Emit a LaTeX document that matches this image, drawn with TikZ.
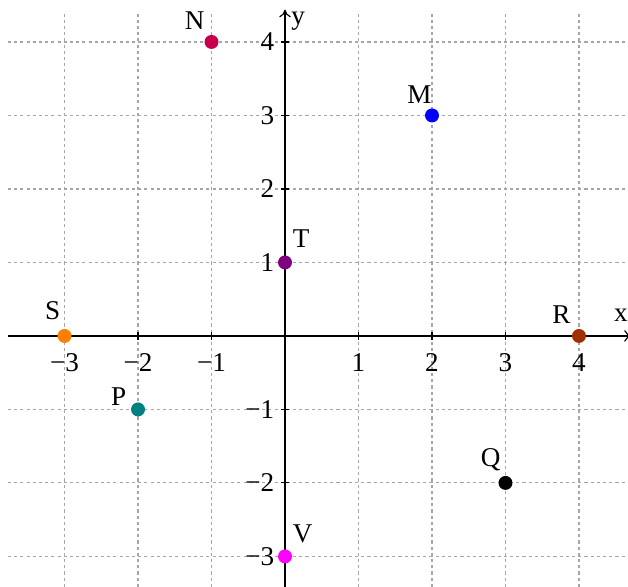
\documentclass[tikz,border=0pt]{standalone}
\usepackage{fontspec}
\setmainfont{Liberation Serif}
\usetikzlibrary{arrows.meta,calc}
\begin{document}
\begin{tikzpicture}[x=1cm,y=1cm,
  gridline/.style={draw=gray!70,line width=0.45pt,dash pattern=on 1.2pt off 1.2pt},
  axisline/.style={draw=black,line width=0.45pt,-{To[length=3pt,width=4.5pt]}},
  tickline/.style={draw=black,line width=0.45pt},
  ticklab/.style={font=\fontsize{10.5}{12}\selectfont,inner sep=0pt},
  ptlab/.style={font=\fontsize{10.5}{12}\selectfont,inner sep=0pt},
  pt/.style={circle,inner sep=0pt,minimum size=0.19cm,fill=#1}]
\useasboundingbox (-3.878,-3.415) rectangle (4.667,4.571);
\clip (-3.878,-3.415) rectangle (4.667,4.571);
\definecolor{cN}{HTML}{C8004B}
\definecolor{cM}{HTML}{0000FF}
\definecolor{cT}{HTML}{800080}
\definecolor{cS}{HTML}{FF8000}
\definecolor{cR}{HTML}{A03000}
\definecolor{cP}{HTML}{008080}
\definecolor{cQ}{HTML}{000000}
\definecolor{cV}{HTML}{FF00FF}
% grid
\foreach \y in {-3,...,4} \draw[gridline] (-3.77,\y) -- (4.75,\y);
\foreach \x in {-3,...,4} \draw[gridline] (\x,-3.5) -- (\x,4.41);
% axes
\coordinate (xs) at (-3.77,0);
\coordinate (xe) at (4.72,0);
\coordinate (ys) at (0,-3.5);
\coordinate (ye) at (0,4.44);
\draw[axisline] (xs) -- (xe);
\draw[axisline] (ys) -- (ye);
\node[ticklab] (xl) at (4.57,0.28) {x};
\node[ticklab] (yl) at (0.18,4.28) {y};
% ticks
\foreach \x/\t in {-3/−3,-2/−2,-1/−1,1/1,2/2,3/3,4/4} {
  \draw[tickline] (\x,-0.05) -- (\x,0.05);
  \node[ticklab,anchor=north] (tx\x) at (\x,-0.23) {\t};
}
\foreach \y/\t in {-3/−3,-2/−2,-1/−1,1/1,2/2,3/3,4/4} {
  \draw[tickline] (-0.05,\y) -- (0.05,\y);
  \node[ticklab,anchor=east] (ty\y) at (-0.14,\y) {\t};
}
% points
\node[pt=cN] (N) at (-1,4) {};
\node[pt=cM] (M) at (2,3) {};
\node[pt=cT] (T) at (0,1) {};
\node[pt=cS] (S) at (-3,0) {};
\node[pt=cR] (R) at (4,0) {};
\node[pt=cP] (P) at (-2,-1) {};
\node[pt=cQ] (Q) at (3,-2) {};
\node[pt=cV] (V) at (0,-3) {};
% labels
\node[ptlab] (lN) at ($(N)+(-0.23,0.29)$) {N};
\node[ptlab] (lM) at ($(M)+(-0.17,0.29)$) {M};
\node[ptlab] (lT) at ($(T)+(0.22,0.32)$) {T};
\node[ptlab] (lS) at ($(S)+(-0.16,0.35)$) {S};
\node[ptlab] (lR) at ($(R)+(-0.24,0.29)$) {R};
\node[ptlab] (lP) at ($(P)+(-0.265,0.17)$) {P};
\node[ptlab] (lQ) at ($(Q)+(-0.2,0.32)$) {Q};
\node[ptlab] (lV) at ($(V)+(0.24,0.31)$) {V};
\end{tikzpicture}
\end{document}
